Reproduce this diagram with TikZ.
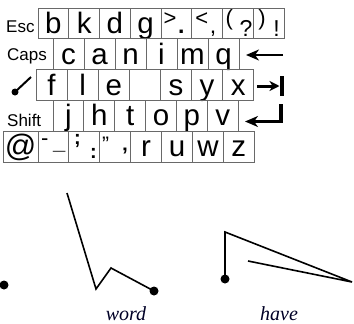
\documentclass[tikz,border=0pt]{standalone}
\usepackage{fontspec}
\setmainfont{Liberation Sans}
\newfontfamily\gestfont{Liberation Serif}
\usetikzlibrary{arrows.meta,calc}
\definecolor{keygray}{RGB}{105,105,105}
\begin{document}
\begin{tikzpicture}[x=1pt,y=-1pt,
  key/.style={draw=keygray,line width=0.9pt,minimum height=30.8pt,inner sep=0pt,outer sep=0pt,anchor=north west,font=\fontsize{29.5}{29.5}\selectfont,text height=25.5pt,text depth=5.3pt},
  up/.style={inner sep=0pt,anchor=base west,font=\fontsize{22}{22}\selectfont},
  low/.style={inner sep=0pt,anchor=base west,font=\fontsize{23}{23}\selectfont},
  lab/.style={inner sep=0pt,anchor=base west,font=\fontsize{17}{17}\selectfont},
  stroke/.style={line width=1.6pt,black,line join=miter},
  dot/.style={circle,fill=black,inner sep=0pt,minimum size=9pt},
  gword/.style={font=\gestfont\itshape\fontsize{20}{20}\selectfont,anchor=base,inner sep=0pt,text=black!85!blue}]
\useasboundingbox (0,0) rectangle (354,324);
% labels
\node[lab] (esc) at (6,32) {Esc};
\node[lab] (caps) at (7,60) {Caps};
\node[lab] (shift) at (7,126) {Shift};
% row 1
\foreach \t [count=\i from 0] in {b,k,d,g}{\node[key,minimum width=30.75pt] (r1-\i) at ({38+\i*30.75},8) {\t};}
\foreach \i in {4,...,7}{\node[key,minimum width=30.75pt] (r1-\i) at ({38+\i*30.75},8) {};}
\node[up] (p1a) at ($(r1-4.north west)+(2.5,17)$) {>};
\node[low] (p1b) at ($(r1-4.north west)+(17,26)$) {\bfseries .};
\node[up] (p2a) at ($(r1-5.north west)+(3.5,17)$) {<};
\node[low] (p2b) at ($(r1-5.north west)+(18,25)$) {,};
\node[up] (p3a) at ($(r1-6.north west)+(3,17)$) {(};
\node[low] (p3b) at ($(r1-6.north west)+(17,28)$) {?};
\node[up] (p4a) at ($(r1-7.north west)+(5,17)$) {)};
\node[low] (p4b) at ($(r1-7.north west)+(20,28)$) {!};
% row 2
\foreach \t [count=\i from 0] in {c,a,n,i,m,q}{\node[key,minimum width=31pt] (r2-\i) at ({53+\i*31},38.8) {\t};}
% row 3
\foreach \t [count=\i from 0] in {f,l,e,{},s,y,x}{\node[key,minimum width=31.1pt] (r3-\i) at ({36+\i*31.1},69.6) {\t};}
% row 4
\foreach \t [count=\i from 0] in {j,h,t,o,p,v}{\node[key,minimum width=30.85pt] (r4-\i) at ({53+\i*30.85},100.4) {\t};}
% row 5
\node[key,minimum width=35pt,font=\fontsize{31}{31}\selectfont] (r5-0) at (3,131.2) {@};
\foreach \i in {1,2,3}{\node[key,minimum width=30.9pt] (r5-\i) at ({38+(\i-1)*30.9},131.2) {};}
\foreach \t [count=\i from 4] in {r,u,w,z}{\node[key,minimum width=30.9pt] (r5-\i) at ({38+(\i-1)*30.9},131.2) {\t};}
\node[up] (q1a) at ($(r5-1.north west)+(3,14)$) {-};
\node[up] (q1b) at ($(r5-1.north west)+(15,18)$) {\bfseries\_};
\node[up,font=\fontsize{20}{20}\selectfont\bfseries] (q2a) at ($(r5-2.north west)+(5,13)$) {;};
\node[up,font=\fontsize{20}{20}\selectfont\bfseries] (q2b) at ($(r5-2.north west)+(21,27)$) {:};
\node[up,font=\fontsize{21}{21}\selectfont] (q3a) at ($(r5-3.north west)+(2,20)$) {"};
\node[up,font=\fontsize{21}{21}\selectfont\bfseries] (q3b) at ($(r5-3.north west)+(22,31)$) {'};
% right glyph arrows
\coordinate (a1s) at (283,55); \coordinate (a1e) at (246,55);
\draw[line width=2.6pt,-{Stealth[length=13pt,width=11pt,inset=4pt]}] (a1s) -- (a1e);
\coordinate (a2s) at (257,86); \coordinate (a2e) at (279.5,86);
\draw[line width=3pt,-{Stealth[length=10pt,width=10pt,inset=3pt]}] (a2s) -- (a2e);
\coordinate (b2t) at (282,76); \coordinate (b2b) at (282,96);
\draw[line width=4pt] (b2t) -- (b2b);
\coordinate (a3s) at (281,104); \coordinate (a3c) at (281,121.5); \coordinate (a3e) at (245,121.5);
\draw[line width=3.5pt,line join=miter,-{Stealth[length=13pt,width=11pt,inset=4pt]}] (a3s) -- (a3c) -- (a3e);
% pen icon
\coordinate (pen1) at (31,77); \coordinate (pen2) at (15,92);
\draw[line width=2pt] (pen1) -- (pen2);
\fill (pen2) circle (3.5);
% gestures
\node[dot] (d0) at (4,285) {};
\coordinate (w0) at (67,193); \coordinate (w1) at (96,289); \coordinate (w2) at (111,268);
\node[dot] (w3) at (154,291) {};
\draw[stroke] (w0) -- (w1) -- (w2) -- (w3.center);
\node[dot] (h0) at (225,279) {};
\coordinate (h1) at (225,232); \coordinate (h2) at (352,282); \coordinate (h3) at (248,261);
\draw[stroke] (h0.center) -- (h1) -- (h2) -- (h3);
\node[gword] (tw) at (126,320.5) {word};
\node[gword] (th) at (279,320) {have};
\end{tikzpicture}
\end{document}
